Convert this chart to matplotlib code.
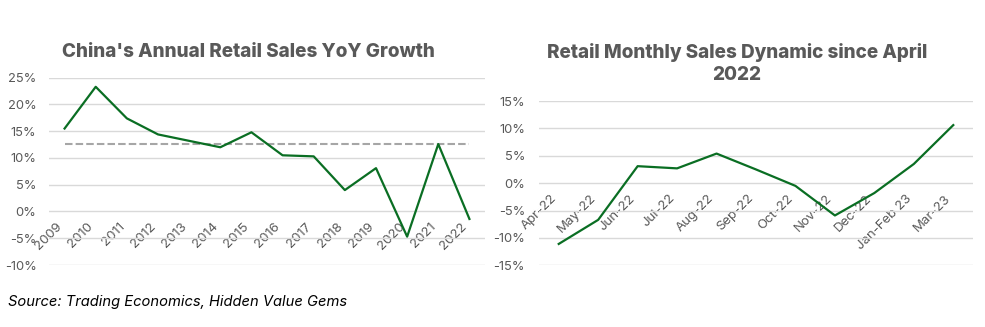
import matplotlib
matplotlib.use("Agg")
import matplotlib.pyplot as plt
from matplotlib.ticker import FuncFormatter, FixedLocator

plt.rcParams['font.family'] = ['Inter', 'DejaVu Sans']

years = ["2009", "2010", "2011", "2012", "2013", "2014", "2015",
         "2016", "2017", "2018", "2019", "2020", "2021", "2022"]
annual_growth = [15.5, 23.3, 17.4, 14.4, 13.2, 12.0, 14.8,
                 10.5, 10.3, 4.0, 8.1, -4.7, 12.6, -1.4]
annual_reference = 12.65

months = ["Apr-22", "May-22", "Jun-22", "Jul-22", "Aug-22", "Sep-22",
          "Oct-22", "Nov-22", "Dec-22", "Jan-Feb 23", "Mar-23"]
monthly_growth = [-11.1, -6.7, 3.1, 2.7, 5.4, 2.5, -0.5, -5.9, -1.8, 3.5, 10.6]

left_yticks = [-10, -5, 0, 5, 10, 15, 20, 25]
right_yticks = [-15, -10, -5, 0, 5, 10, 15]

GREEN = "#0a6e23"
TXT = "#595959"
GRID = "#d9d9d9"
W, H = 985, 327

fig = plt.figure(figsize=(W / 100, H / 100), dpi=100)
fig.patch.set_facecolor("white")


def box(x0, x1, ytop, ybot):
    return [x0 / W, 1 - ybot / H, (x1 - x0) / W, (ybot - ytop) / H]


def style(ax, cats, yticks, ypad):
    n = len(cats)
    ax.set_xlim(-0.5, n - 0.5)
    ax.set_ylim(min(yticks), max(yticks))
    ax.yaxis.set_major_locator(FixedLocator(yticks))
    ax.yaxis.set_major_formatter(FuncFormatter(lambda v, p: f"{v:.0f}%"))
    for s in ax.spines.values():
        s.set_visible(False)
    ax.spines['bottom'].set_position(('data', 0))
    ax.grid(axis='y', color=GRID, lw=1.0)
    ax.set_axisbelow(True)
    ax.set_xticks(range(n))
    ax.set_xticklabels(cats, rotation=45, ha='right', va='top',
                       rotation_mode='default')
    ax.tick_params(axis='x', length=0, pad=6.5, labelsize=9.5, labelcolor=TXT)
    ax.tick_params(axis='y', length=0, pad=ypad, labelsize=9.3, labelcolor=TXT)


ax1 = fig.add_axes(box(49, 485, 77.7, 265))
ax1.plot(range(len(years)), [annual_reference] * len(years), color="#a6a6a6",
         lw=1.5, dashes=(3.6, 1.5), zorder=2)
ax1.plot(range(len(years)), annual_growth, color=GREEN, lw=1.6, zorder=3,
         solid_joinstyle='round')
style(ax1, years, left_yticks, 9)

ax2 = fig.add_axes(box(539, 973, 101, 265.3))
ax2.plot(range(len(months)), monthly_growth, color=GREEN, lw=1.6, zorder=3,
         solid_joinstyle='round')
style(ax2, months, right_yticks, 10)

tkw = dict(ha='center', va='center', fontsize=13.6, fontweight=800, color=TXT)
fig.text(248 / W, 1 - 52 / H, "China's Annual Retail Sales YoY Growth", **tkw)
fig.text(737 / W, 1 - 52.7 / H, "Retail Monthly Sales Dynamic since April", **tkw)
fig.text(737 / W, 1 - 75 / H, "2022", **tkw)

fig.text(8 / W, 1 - 301.7 / H, "Source: Trading Economics, Hidden Value Gems",
         ha='left', va='center', fontsize=10.6, style='italic', color="#000000")

fig.savefig("out.png", dpi=100, facecolor="white")
